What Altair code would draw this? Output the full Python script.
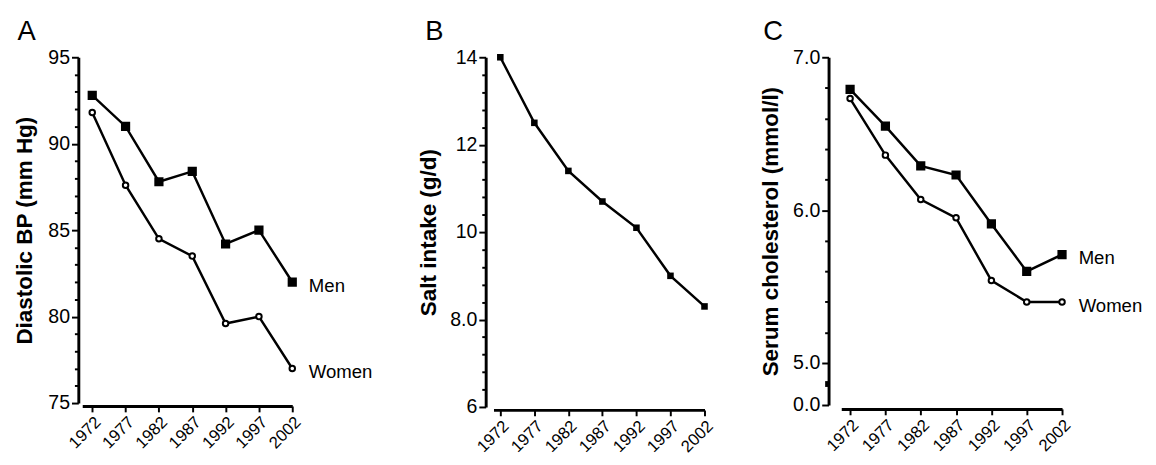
import altair as alt
import pandas as pd

YEARS = [1972, 1977, 1982, 1987, 1992, 1997, 2002]

# Panel A: diastolic BP (mm Hg)
BP_MEN = [92.8, 91.0, 87.8, 88.4, 84.2, 85.0, 82.0]
BP_WOMEN = [91.8, 87.6, 84.5, 83.5, 79.6, 80.0, 77.0]
BP_TICKS = [75, 80, 85, 90, 95]
BP_TICK_LABELS = ["75", "80", "85", "90", "95"]

# Panel B: salt intake (g/d)
SALT = [14.0, 12.5, 11.4, 10.7, 10.1, 9.0, 8.3]
SALT_TICKS = [6, 8, 10, 12, 14]
SALT_TICK_LABELS = ["6", "8.0", "10", "12", "14"]

# Panel C: serum cholesterol (mmol/l); broken axis, "0.0" drawn at the axis bottom
CHOL_MEN = [6.79, 6.55, 6.29, 6.23, 5.91, 5.60, 5.71]
CHOL_WOMEN = [6.73, 6.36, 6.07, 5.95, 5.54, 5.40, 5.40]
CHOL_AXIS_BOTTOM = 4.726   # where the broken axis shows "0.0"
CHOL_BREAK = 4.866         # axis-break marker
CHOL_TICKS = [CHOL_AXIS_BOTTOM, 5, 6, 7]
CHOL_TICK_LABELS = ["0.0", "5.0", "6.0", "7.0"]

SERIES = ["Men", "Women"]


def match_expr(vals):
    return "(" + " || ".join(f"abs(datum.value - {v}) < 0.000001" for v in vals) + ")"


def label_expr(ticks, labels):
    expr = "''"
    for t, l in zip(ticks, labels):
        expr = f"abs(datum.value - {t}) < 0.000001 ? '{l}' : ({expr})"
    return expr


def minor_ticks(lo, hi, step, majors):
    vals = []
    n = int(round((hi - lo) / step))
    for i in range(n + 1):
        v = round(lo + i * step, 4)
        if all(abs(v - m) > 1e-6 for m in majors):
            vals.append(v)
    return vals


def long_df(men, women):
    rows = []
    for s, vals in zip(SERIES, [men, women]):
        for y, v in zip(YEARS, vals):
            rows.append({"year": y, "value": v, "series": s})
    return pd.DataFrame(rows)


def end_labels(men, women):
    return pd.DataFrame({"year": [YEARS[-1], YEARS[-1]],
                         "value": [men[-1], women[-1]],
                         "series": SERIES})


def x_axis(offset):
    return alt.Axis(values=YEARS, format="d", labelAngle=-45, labelFontSize=17,
                    domainWidth=3, domainColor="black", tickColor="black",
                    tickWidth=2, tickSize=6, offset=offset, grid=False, title=None,
                    labelOverlap=False)


def y_axis(ticks, labels, minors, title, offset, tpad, big=None):
    extra = [big] if big is not None else []
    allv = sorted(ticks + minors + extra)
    ts = {"condition": {"test": match_expr(ticks), "value": 7}, "value": 4}
    if big is not None:
        tw = {"condition": {"test": match_expr(extra), "value": 6}, "value": 2}
    else:
        tw = 2
    return alt.Axis(values=allv, labelExpr=label_expr(ticks, labels),
                    title=title, offset=offset, grid=False, domainWidth=3,
                    domainColor="black", tickColor="black",
                    tickWidth=tw, tickSize=ts, labelPadding=2,
                    titlePadding=tpad, labelOverlap=False,
                    labelFontSize=20, titleFontSize=23)


def panel(df, lab, xdom, w, h, yscale, yax, x_off, shapes=True, title="A", tdx=6):
    xs = alt.Scale(domain=xdom, nice=False, zero=False)
    x = alt.X("year:Q", scale=xs, axis=x_axis(x_off))
    y = alt.Y("value:Q", scale=yscale, axis=yax)
    line = alt.Chart(df).mark_line(color="black", strokeWidth=2.5).encode(
        x=x, y=y, detail="series:N")
    if shapes:
        pts = alt.Chart(df).mark_point(filled=True, opacity=1).encode(
            x=x, y=y,
            shape=alt.Shape("series:N", scale=alt.Scale(domain=SERIES, range=["square", "circle"]), legend=None),
            fill=alt.Fill("series:N", scale=alt.Scale(domain=SERIES, range=["black", "white"]), legend=None),
            size=alt.Size("series:N", scale=alt.Scale(domain=SERIES, range=[55, 32]), legend=None),
            stroke=alt.value("black"))
    else:
        pts = alt.Chart(df).mark_point(filled=True, shape="square", size=45,
                                       color="black", opacity=1).encode(x=x, y=y)
    layers = [line, pts]
    if lab is not None:
        txt = alt.Chart(lab).mark_text(align="left", baseline="middle", dx=17, dy=4,
                                       fontSize=19, color="black").encode(
            x=x, y=y, text="series:N")
        layers.append(txt)
    return alt.layer(*layers).properties(
        width=w, height=h,
        title=alt.TitleParams(title, anchor="start", frame="bounds", fontSize=28,
                              fontWeight="normal", dx=tdx, offset=2))


a = panel(long_df(BP_MEN, BP_WOMEN), end_labels(BP_MEN, BP_WOMEN),
          [1970.5, 2002], 215, 354,
          alt.Scale(domain=[75, 95], nice=False, zero=False),
          y_axis(BP_TICKS, BP_TICK_LABELS, minor_ticks(75, 95, 1, BP_TICKS),
                 "Diastolic BP (mm Hg)", 4, 12),
          3, title="A", tdx=4)

salt_df = pd.DataFrame({"year": YEARS, "value": SALT, "series": "Salt"})
b = panel(salt_df, None, [1971, 2002], 216, 358,
          alt.Scale(domain=[6, 14], nice=False, zero=False),
          y_axis(SALT_TICKS, SALT_TICK_LABELS, minor_ticks(6, 14, 0.4, SALT_TICKS),
                 "Salt intake (g/d)", 8, 10),
          3, shapes=False, title="B", tdx=8)

c = panel(long_df(CHOL_MEN, CHOL_WOMEN), end_labels(CHOL_MEN, CHOL_WOMEN),
          [1970.75, 2002], 226, 356,
          alt.Scale(domain=[CHOL_AXIS_BOTTOM, 7], nice=False, zero=False),
          y_axis(CHOL_TICKS, CHOL_TICK_LABELS, minor_ticks(5, 7, 0.2, [5, 6, 7]),
                 "Serum cholesterol (mmol/l)", 13, 10, big=CHOL_BREAK),
          4, title="C", tdx=3)

chart = alt.hconcat(a, b, c, spacing=45).configure_view(strokeWidth=0)

chart.save("out.html", embed_options={"renderer": "svg", "actions": False})
